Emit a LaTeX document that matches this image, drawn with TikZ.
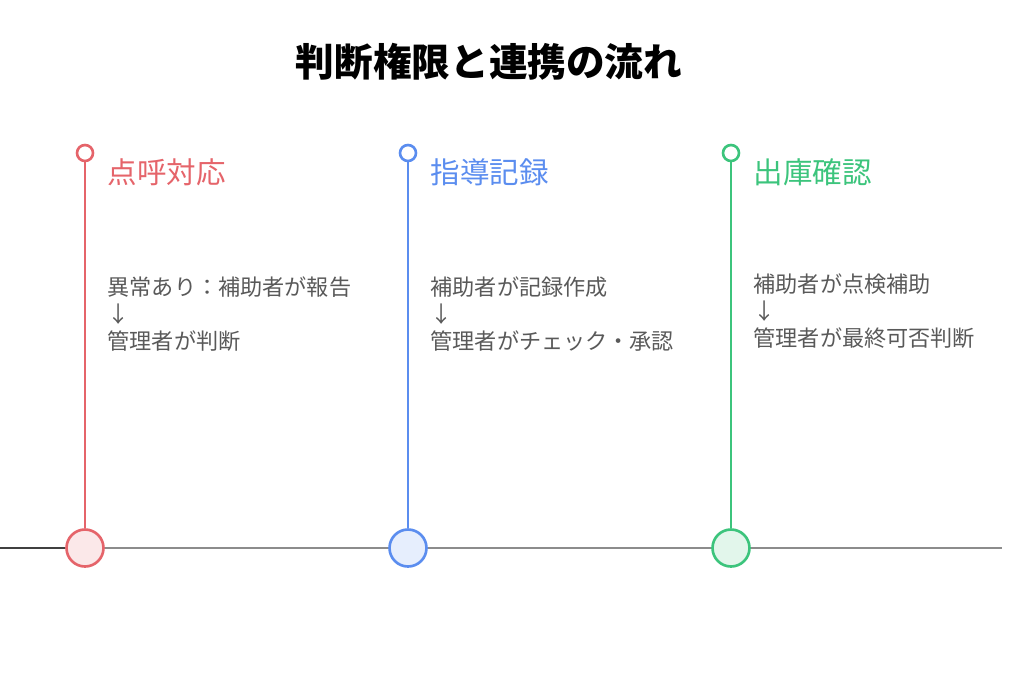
\documentclass[tikz,border=0pt]{standalone}
\usepackage{fontspec}
\setmainfont{Noto Sans CJK JP}
\def\dist{3.23}
\definecolor{cRed}{HTML}{E5646A}
\definecolor{cBlue}{HTML}{5B8DEF}
\definecolor{cGreen}{HTML}{3CC47C}
\tikzset{
  stem/.style={line width=0.75pt},
  knob/.style={circle, draw, line width=0.75pt, minimum size=0.16cm, inner sep=0pt, fill=white},
  dot/.style={circle, draw, line width=0.75pt, minimum size=0.37cm, inner sep=0pt},
  head/.style={anchor=west, inner sep=0pt, font=\fontsize{8.4}{10}\selectfont},
  body/.style={anchor=north west, inner sep=0pt, align=left, text=black!65, font=\fontsize{6.3}{7.7}\selectfont}
}
\begin{document}
\begin{tikzpicture}
            \useasboundingbox (0,0) rectangle (10.24,6.83);
            \node[font=\bfseries\fontsize{11}{13}\selectfont] (title) at (4.89, 6.21) {判断権限と連携の流れ};

            \coordinate (start) at (0, 1.35);
            \coordinate (fin) at (10.02, 1.35);
            \coordinate (mid) at (0.65, 1.35);
            \draw[line width=0.6pt, black!75] (start) -- (mid);
            \draw[line width=0.8pt, black!45] (mid) -- (fin);

            \node[dot, draw=cRed, fill=cRed!15] (d1) at (0.85, 1.35) {};
            \node[dot, draw=cBlue, fill=cBlue!15] (d2) at (0.85+\dist, 1.35) {};
            \node[dot, draw=cGreen, fill=cGreen!15] (d3) at (0.85+2*\dist, 1.35) {};

            \node[knob, draw=cRed] (k1) at (0.85, 5.30) {};
            \node[knob, draw=cBlue] (k2) at (0.85+\dist, 5.30) {};
            \node[knob, draw=cGreen] (k3) at (0.85+2*\dist, 5.30) {};

            \draw[stem, cRed] (k1) -- (d1);
            \draw[stem, cBlue] (k2) -- (d2);
            \draw[stem, cGreen] (k3) -- (d3);

            \node[head, text=cRed] (h1) at (1.07, 5.11) {点呼対応};
            \node[head, text=cBlue] (h2) at (1.07+\dist, 5.11) {指導記録};
            \node[head, text=cGreen] (h3) at (1.07+2*\dist, 5.11) {出庫確認};

            \node[body] (b1) at (1.07, 4.07) {異常あり：補助者が報告\\↓\\管理者が判断};
            \node[body] (b2) at (1.07+\dist, 4.07) {補助者が記録作成\\↓\\管理者がチェック・承認};
            \node[body] (b3) at (1.07+2*\dist, 4.10) {補助者が点検補助\\↓\\管理者が最終可否判断};
        \end{tikzpicture}
\end{document}
